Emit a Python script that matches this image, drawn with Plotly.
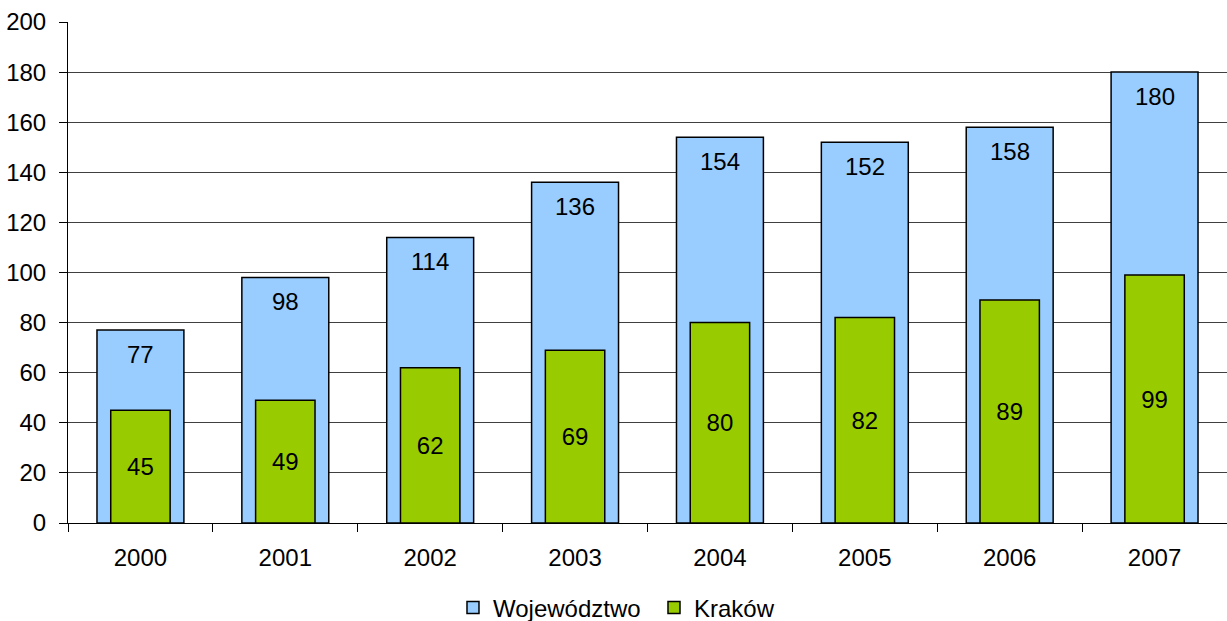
import plotly.graph_objects as go

years = ["2000", "2001", "2002", "2003", "2004", "2005", "2006", "2007"]
wojewodztwo = [77, 98, 114, 136, 154, 152, 158, 180]
krakow = [45, 49, 62, 69, 80, 82, 89, 99]

FONT = "Liberation Sans, Arial, sans-serif"
FS = 24

fig = go.Figure()
fig.add_trace(go.Bar(
    x=years, y=wojewodztwo, name="Województwo", width=0.6,
    marker=dict(color="#99CCFF", line=dict(color="#000000", width=1.5)),
    hoverinfo="y",
))
fig.add_trace(go.Bar(
    x=years, y=krakow, name="Kraków", width=0.41,
    marker=dict(color="#99CC00", line=dict(color="#000000", width=1.5)),
    text=[str(v) for v in krakow], textposition="inside", insidetextanchor="middle",
    textfont=dict(color="#000000", size=FS, family=FONT), hoverinfo="y",
))

for i, v in enumerate(wojewodztwo):
    fig.add_annotation(x=i, y=v, xref="x", yref="y", text=str(v), showarrow=False,
                       yanchor="middle", yshift=-24,
                       font=dict(color="#000000", size=FS, family=FONT))

fig.update_layout(
    width=1227, height=621,
    barmode="overlay",
    plot_bgcolor="#FFFFFF", paper_bgcolor="#FFFFFF",
    margin=dict(l=68, r=0, t=22, b=98, autoexpand=False),
    font=dict(family=FONT, size=FS, color="#000000"),
    uniformtext=dict(minsize=FS, mode="show"),
    showlegend=True,
    legend=dict(orientation="h", xref="container", yref="container",
                x=0.533, y=0.021, xanchor="center", yanchor="middle",
                font=dict(size=FS, family=FONT), traceorder="normal",
                entrywidth=156),
    xaxis=dict(type="category", showgrid=False, showline=True, linecolor="#000000",
               linewidth=1, ticks="outside", ticklen=8, tickcolor="#000000",
               tickson="boundaries", ticklabelstandoff=13, range=[-0.5, 7.5]),
    yaxis=dict(range=[0, 200], dtick=20, showgrid=True, gridcolor="#404040",
               gridwidth=1, showline=True, linecolor="#000000", linewidth=1,
               ticks="outside", ticklen=8, tickcolor="#000000", zeroline=False,
               ticklabelstandoff=8),
)

fig.write_html("out.html", config={"displayModeBar": False},
               post_script="document.body.style.margin='0';document.body.style.overflow='hidden';")
